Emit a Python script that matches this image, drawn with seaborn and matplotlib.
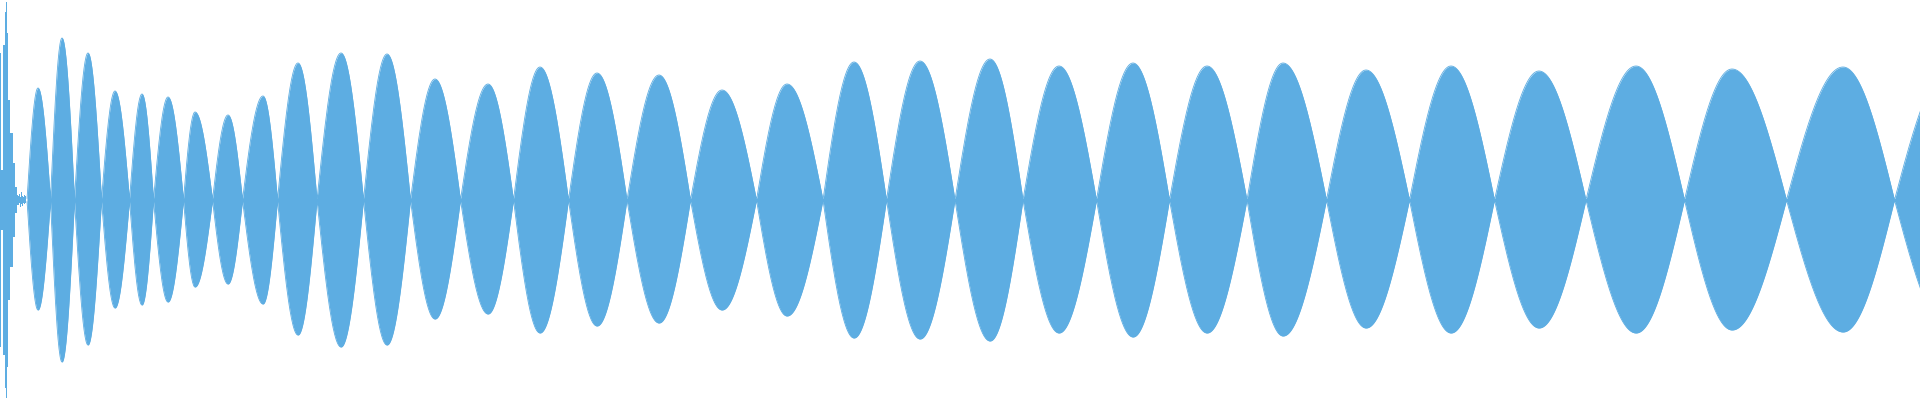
import numpy as np
import matplotlib
matplotlib.use("Agg")
import matplotlib.pyplot as plt
import seaborn as sns

sns.set_theme(style="white")

# --- onset (per pixel column, x 0..27) ---
onset_x = [0, 1, 2, 3, 4, 5, 6, 7, 8, 9, 10, 11, 12, 13, 14, 15, 16,
           17, 18, 19, 20, 21, 22, 23, 24, 25, 26]
onset_top = [147, 30, 30, 155, 155, 188, 198, 167, 100, 100, 67, 67, 67, 37, 37, 13, 13,
             5, 4, 6, 3, 8, 4, 3, 5, 4, 3]
onset_bottom = [147, 30, 30, 155, 155, 188, 198, 167, 100, 100, 67, 67, 67, 37, 37, 13, 13,
                5, 5, 3, 7, 4, 6, 3, 4, 3, 3]

# --- lobes: node boundaries, peak position, top / bottom peak amplitude ---
nodes = [27, 50.5, 74.5, 101.5, 129.5, 153.5, 183.5, 212.5, 242.5, 277.5, 317,
         363.5, 410.5, 460.5, 513.5, 568.5, 627, 690.5, 756.5, 823, 886.5, 955,
         1023, 1096.5, 1169.5, 1247, 1326.5, 1409.5, 1494.5, 1586, 1684.5,
         1786.5, 1894.5, 2005]
peak_x = [38, 62, 88, 115, 142, 168, 195, 228, 263, 298, 341, 387, 435, 488,
          540, 597, 659, 722, 787, 854, 920, 990, 1059, 1133, 1207, 1283, 1366,
          1451, 1539, 1636, 1732, 1843, 1950]
peak_top = [112, 162, 147, 109, 106, 103, 88, 85, 104, 137, 147, 146, 121, 116,
            133, 127, 125, 110, 116, 138, 139, 141, 134, 137, 134, 137, 130,
            134, 129, 134, 131, 133, 133]
peak_bottom = [110, 162, 145, 108, 105, 102, 87, 84, 104, 135, 147, 145, 119,
               114, 133, 126, 123, 110, 116, 138, 139, 141, 133, 137, 133, 136,
               128, 133, 128, 133, 130, 132, 132]

COLOR = "#5DADE2"


def lobe_envelope(xs, left, peak, right, amp):
    # rounded top, pointed nodes (half-period of |sin| on each side of the peak)
    out = np.zeros_like(xs)
    rise = (xs >= left) & (xs <= peak)
    fall = (xs > peak) & (xs <= right)
    out[rise] = amp * np.sin(np.pi / 2 * (xs[rise] - left) / (peak - left))
    out[fall] = amp * np.sin(np.pi / 2 * (right - xs[fall]) / (right - peak))
    return out


xs = np.arange(27, 1921, 0.5)
top = np.zeros_like(xs)
bottom = np.zeros_like(xs)
for i in range(len(peak_x)):
    top = np.maximum(top, lobe_envelope(xs, nodes[i], peak_x[i], nodes[i + 1], peak_top[i]))
    bottom = np.maximum(bottom, lobe_envelope(xs, nodes[i], peak_x[i], nodes[i + 1], peak_bottom[i]))
top = np.maximum(top, 1.5)
bottom = np.maximum(bottom, 1.5)

fig = plt.figure(figsize=(19.2, 4), dpi=100)
ax = fig.add_axes([0, 0, 1, 1])

# onset drawn column by column
ox = np.array(onset_x, dtype=float)
ax.fill_between(ox, -np.array(onset_bottom), np.array(onset_top),
                step="mid", color=COLOR, linewidth=0)
ax.fill_between(xs, -bottom, top, color=COLOR, linewidth=0)
sns.lineplot(x=xs, y=top, ax=ax, color=COLOR, linewidth=0.6)
sns.lineplot(x=xs, y=-bottom, ax=ax, color=COLOR, linewidth=0.6)

ax.set_xlim(0, 1920)
ax.set_ylim(-200, 200)
ax.axis("off")

fig.savefig("out.png", dpi=100, facecolor="white")
